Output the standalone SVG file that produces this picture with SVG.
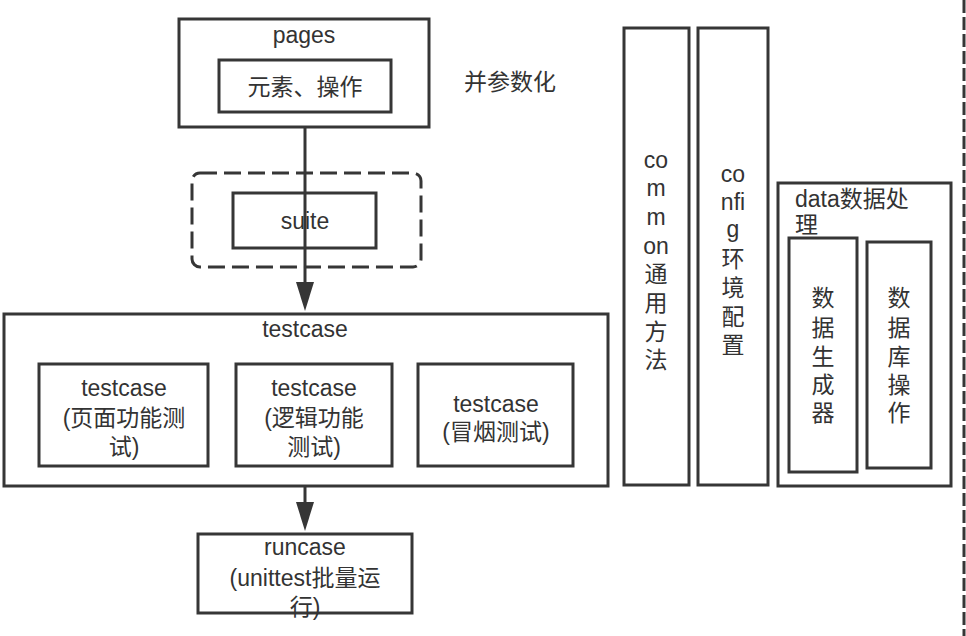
<svg xmlns="http://www.w3.org/2000/svg" width="966" height="636" viewBox="0 0 966 636">
<style>
.box{fill:#fff;stroke:#363636;stroke-width:3}
.dash{fill:none;stroke:#363636;stroke-width:3;stroke-dasharray:17 7}
.t{font-family:"Liberation Sans","Noto Sans CJK SC",sans-serif;font-size:23px;fill:#333;text-anchor:middle;dominant-baseline:central}
.ts{text-anchor:start}
.conn{stroke:#363636;stroke-width:3;fill:none}
.head{fill:#363636}
</style>
<rect width="966" height="636" fill="#fff"/>
<g id="pages">
<rect class="box" x="179" y="19" width="250" height="108"/>
<text class="t" x="304" y="35">pages</text>
<rect class="box" x="219" y="60" width="172" height="52"/>
<text class="t" x="305" y="87">元素、操作</text>
</g>
<g id="param">
<text class="t" x="510" y="82">并参数化</text>
</g>
<g id="suite">
<rect class="dash" x="192" y="173" width="229" height="94" rx="8"/>
<rect class="box" x="233" y="193" width="143" height="55"/>
<text class="t" x="305" y="221">suite</text>
</g>
<g id="testcase">
<rect class="box" x="4" y="314" width="604" height="172"/>
<text class="t" x="305" y="329">testcase</text>
<g id="tc-page">
<rect class="box" x="39" y="364" width="169" height="102"/>
<text class="t" x="124" y="388">testcase</text>
<text class="t" x="124" y="418">(页面功能测</text>
<text class="t" x="124" y="447">试)</text>
</g>
<g id="tc-logic">
<rect class="box" x="236" y="364" width="156" height="102"/>
<text class="t" x="314" y="388">testcase</text>
<text class="t" x="314" y="418">(逻辑功能</text>
<text class="t" x="314" y="447">测试)</text>
</g>
<g id="tc-smoke">
<rect class="box" x="418" y="364" width="155" height="102"/>
<text class="t" x="496" y="404">testcase</text>
<text class="t" x="496" y="432">(冒烟测试)</text>
</g>
</g>
<g id="runcase">
<rect class="box" x="198" y="534" width="214" height="79"/>
<text class="t" x="305" y="547">runcase</text>
<text class="t" x="305" y="578">(unittest批量运</text>
<text class="t" x="305" y="607">行)</text>
</g>
<g id="common">
<rect class="box" x="624" y="28" width="65" height="457"/>
<text class="t" x="656" y="160">co</text>
<text class="t" x="656" y="188">m</text>
<text class="t" x="656" y="217">m</text>
<text class="t" x="656" y="246">on</text>
<text class="t" x="656" y="274">通</text>
<text class="t" x="656" y="303">用</text>
<text class="t" x="656" y="332">方</text>
<text class="t" x="656" y="360">法</text>
</g>
<g id="config">
<rect class="box" x="698" y="28" width="70" height="457"/>
<text class="t" x="733" y="174">co</text>
<text class="t" x="733" y="202">nfi</text>
<text class="t" x="733" y="229">g</text>
<text class="t" x="733" y="259">环</text>
<text class="t" x="733" y="288">境</text>
<text class="t" x="733" y="317">配</text>
<text class="t" x="733" y="345">置</text>
</g>
<g id="data">
<rect class="box" x="778" y="183" width="173" height="303"/>
<text class="t ts" x="795" y="199">data数据处</text>
<text class="t ts" x="795" y="225">理</text>
<g id="data-gen">
<rect class="box" x="789" y="238" width="68" height="234"/>
<text class="t" x="823" y="298">数</text>
<text class="t" x="823" y="328">据</text>
<text class="t" x="823" y="357">生</text>
<text class="t" x="823" y="385">成</text>
<text class="t" x="823" y="413">器</text>
</g>
<g id="data-db">
<rect class="box" x="867" y="242" width="64" height="226"/>
<text class="t" x="899" y="298">数</text>
<text class="t" x="899" y="328">据</text>
<text class="t" x="899" y="357">库</text>
<text class="t" x="899" y="385">操</text>
<text class="t" x="899" y="413">作</text>
</g>
</g>
<g id="connectors">
<line class="conn" x1="305" y1="127" x2="305" y2="285"/>
<polygon class="head" points="296,282 314,282 305,311"/>
<line class="conn" x1="305" y1="486" x2="305" y2="504"/>
<polygon class="head" points="296,502 314,502 305,531"/>
</g>
<g id="divider">
<line x1="964" y1="0" x2="964" y2="636" stroke="#363636" stroke-width="3" stroke-dasharray="13 4"/>
</g>
</svg>
